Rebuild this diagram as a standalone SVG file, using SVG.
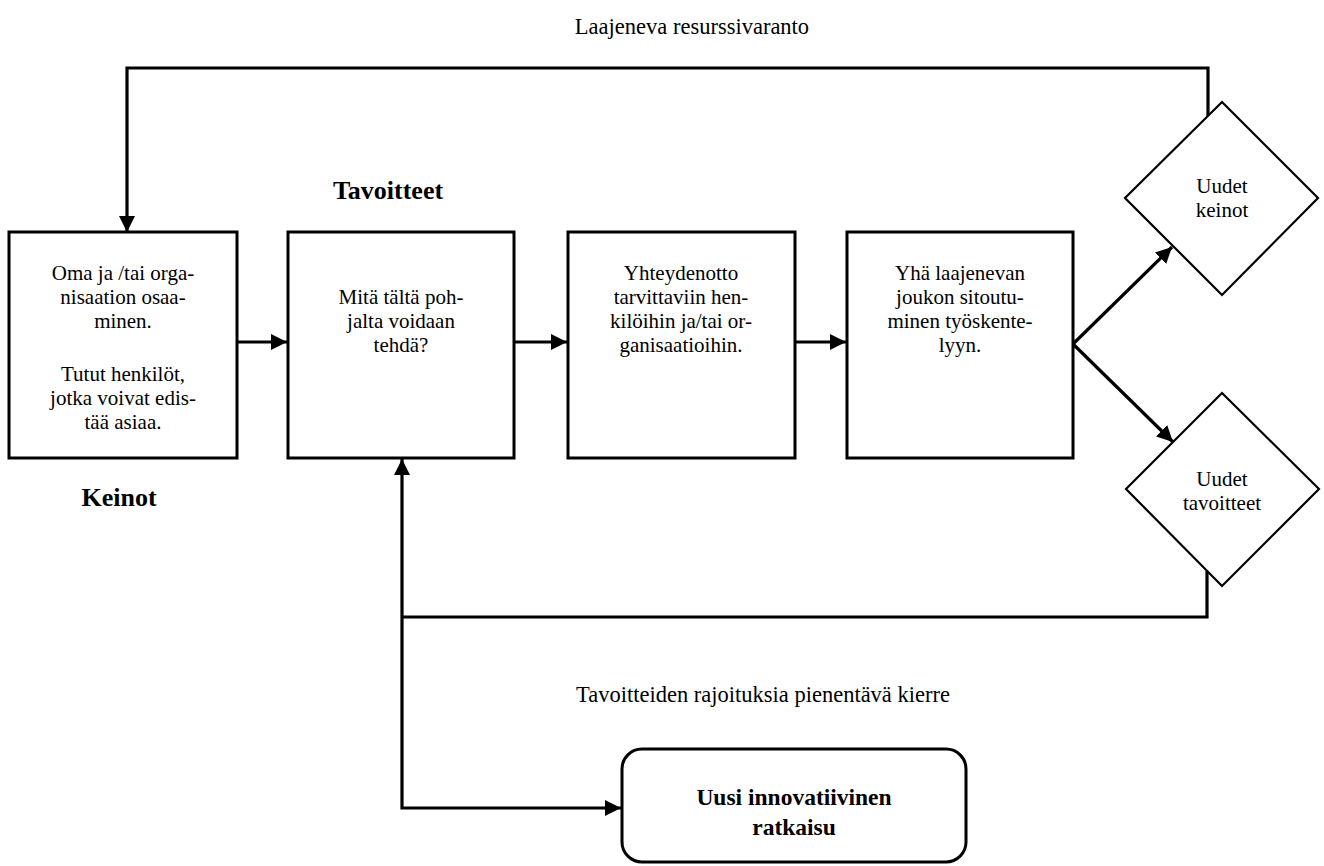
<svg xmlns="http://www.w3.org/2000/svg" width="1324" height="866" viewBox="0 0 1324 866">
<style>
.box{fill:#fff;stroke:#000;stroke-width:3}
.dia{fill:#fff;stroke:#000;stroke-width:2.2}
.c{fill:none;stroke:#000;stroke-width:3.2}
.t{font-family:'Liberation Serif',serif;font-size:21px;fill:#000;text-anchor:middle}
.lb{font-family:'Liberation Serif',serif;font-size:22.5px;fill:#000;text-anchor:middle}
.b{font-family:'Liberation Serif',serif;font-size:26px;font-weight:bold;fill:#000;text-anchor:middle}
.bb{font-family:'Liberation Serif',serif;font-size:23.5px;font-weight:bold;fill:#000;text-anchor:middle}
</style>
<defs>
<marker id="ah" markerUnits="userSpaceOnUse" markerWidth="16" markerHeight="16" refX="16" refY="8" orient="auto">
<path d="M0,0 L16,8 L0,16 Z" fill="#000"/>
</marker>
</defs>
<rect width="1324" height="866" fill="#fff"/>

<g id="connectors">
<path class="c" d="M1208,116 V68 H127 V232" marker-end="url(#ah)"/>
<path class="c" d="M237,342 H287" marker-end="url(#ah)"/>
<path class="c" d="M514,342 H567" marker-end="url(#ah)"/>
<path class="c" d="M795,342 H846" marker-end="url(#ah)"/>
<path class="c" d="M1073,344 L1172,247" marker-end="url(#ah)"/>
<path class="c" d="M1073,344 L1173,442" marker-end="url(#ah)"/>
<path class="c" d="M1207,571 V617 H402"/>
<path class="c" d="M402,617 V459" marker-end="url(#ah)"/>
<path class="c" d="M402,617 V808 H621" marker-end="url(#ah)"/>
</g>

<g id="label-top"><text class="lb" x="692" y="34">Laajeneva resurssivaranto</text></g>
<g id="label-tavoitteet"><text class="b" x="388" y="199">Tavoitteet</text></g>
<g id="label-keinot"><text class="b" x="119" y="506">Keinot</text></g>
<g id="label-bottom"><text class="lb" x="763" y="702">Tavoitteiden rajoituksia pienentävä kierre</text></g>

<g id="node-oma">
<rect class="box" x="9" y="232" width="228" height="226"/>
<text class="t"><tspan x="123" y="280">Oma ja /tai orga-</tspan><tspan x="123" y="304">nisaation osaa-</tspan><tspan x="123" y="328">minen.</tspan><tspan x="123" y="381">Tutut henkilöt,</tspan><tspan x="123" y="405">jotka voivat edis-</tspan><tspan x="123" y="429">tää asiaa.</tspan></text>
</g>
<g id="node-mita">
<rect class="box" x="288" y="232" width="226" height="226"/>
<text class="t"><tspan x="401" y="304">Mitä tältä poh-</tspan><tspan x="401" y="328">jalta voidaan</tspan><tspan x="401" y="352">tehdä?</tspan></text>
</g>
<g id="node-yhteydenotto">
<rect class="box" x="568" y="232" width="227" height="226"/>
<text class="t"><tspan x="681" y="280">Yhteydenotto</tspan><tspan x="681" y="304">tarvittaviin hen-</tspan><tspan x="681" y="328">kilöihin ja/tai or-</tspan><tspan x="681" y="352">ganisaatioihin.</tspan></text>
</g>
<g id="node-yha">
<rect class="box" x="847" y="232" width="226" height="226"/>
<text class="t"><tspan x="960" y="280">Yhä laajenevan</tspan><tspan x="960" y="304">joukon sitoutu-</tspan><tspan x="960" y="328">minen työskente-</tspan><tspan x="960" y="352">lyyn.</tspan></text>
</g>
<g id="node-uudet-keinot">
<path class="dia" d="M1222,102 L1318,198 L1222,295 L1125,198 Z"/>
<text class="t"><tspan x="1222" y="193">Uudet</tspan><tspan x="1222" y="217">keinot</tspan></text>
</g>
<g id="node-uudet-tavoitteet">
<path class="dia" d="M1222,393 L1319,489 L1222,586 L1126,489 Z"/>
<text class="t"><tspan x="1222" y="486">Uudet</tspan><tspan x="1222" y="510">tavoitteet</tspan></text>
</g>
<g id="node-uusi">
<rect class="box" x="622" y="749" width="344" height="113" rx="20" ry="20"/>
<text class="bb"><tspan x="794" y="805">Uusi innovatiivinen</tspan><tspan x="794" y="835">ratkaisu</tspan></text>
</g>
</svg>
